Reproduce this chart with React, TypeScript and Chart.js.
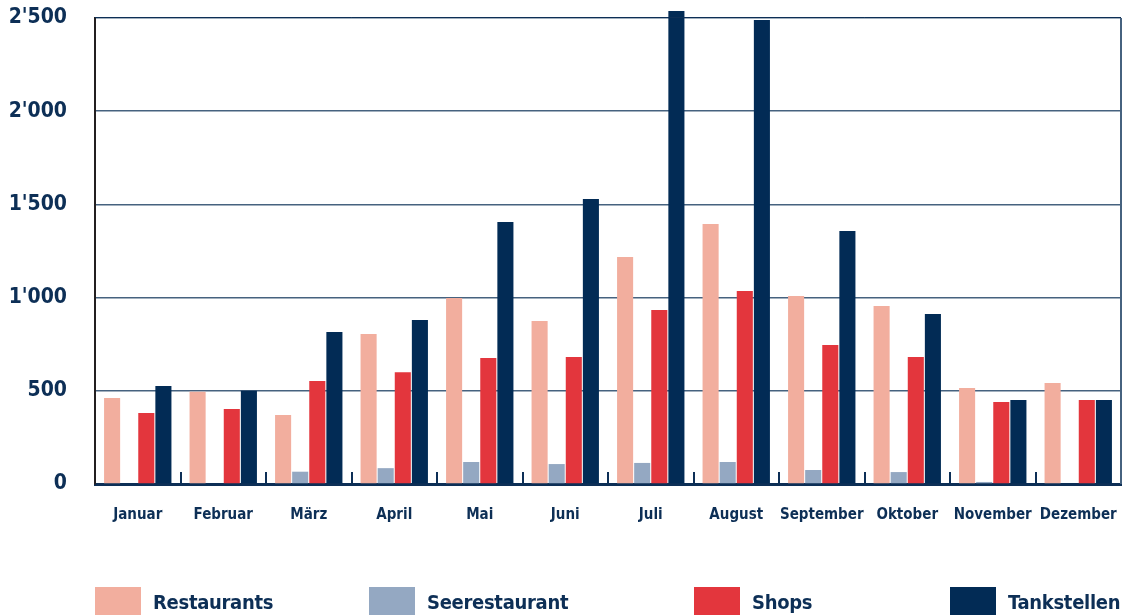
import React, { useEffect, useRef } from "react";
import { Chart, registerables } from "chart.js";

Chart.register(...registerables);

const months = ["Januar", "Februar", "März", "April", "Mai", "Juni", "Juli", "August", "September", "Oktober", "November", "Dezember"];
const restaurants = [461, 495, 370, 805, 998, 875, 1218, 1395, 1009, 955, 515, 542];
const seerestaurant = [0, 0, 66, 85, 118, 107, 113, 118, 75, 64, 11, 0];
const shops = [381, 402, 553, 600, 676, 681, 933, 1035, 746, 681, 440, 451];
const tankstellen = [526, 500, 815, 880, 1405, 1529, 2538, 2489, 1357, 912, 451, 451];
const seriesNames = ["Restaurants", "Seerestaurant", "Shops", "Tankstellen"];
const seriesColors = ["#F2AE9E", "#94A8C2", "#E3363D", "#022B55"];

const FONT = "'DejaVu Sans Condensed', 'DejaVu Sans', sans-serif";
const NAVY = "#0D2F56";

const legendLeft = [95, 369, 694, 950];

const extrasPlugin = {
  id: "extras",
  afterDraw(chart: any) {
    const { ctx, chartArea, scales } = chart;
    const x = scales.x;
    ctx.save();
    // right border
    ctx.strokeStyle = "#46627F";
    ctx.lineWidth = 2;
    ctx.beginPath();
    ctx.moveTo(chartArea.right, chartArea.top);
    ctx.lineTo(chartArea.right, chartArea.bottom);
    ctx.stroke();
    // top double line
    ctx.strokeStyle = NAVY;
    ctx.lineWidth = 1;
    ctx.beginPath();
    ctx.moveTo(chartArea.left, chartArea.top - 0.5);
    ctx.lineTo(chartArea.right, chartArea.top - 0.5);
    ctx.stroke();
    // category boundary ticks
    ctx.strokeStyle = NAVY;
    ctx.lineWidth = 2;
    const n = months.length;
    for (let i = 1; i < n; i++) {
      const px = (x.getPixelForValue(i - 1) + x.getPixelForValue(i)) / 2;
      ctx.beginPath();
      ctx.moveTo(Math.round(px), chartArea.bottom);
      ctx.lineTo(Math.round(px), chartArea.bottom - 12);
      ctx.stroke();
    }
    ctx.restore();
  },
};

export default function App() {
  const ref = useRef<HTMLCanvasElement>(null);
  useEffect(() => {
    document.body.style.margin = "0";
    const data = [restaurants, seerestaurant, shops, tankstellen];
    const chart = new Chart(ref.current!, {
      type: "bar",
      data: {
        labels: months,
        datasets: seriesNames.map((name, i) => ({
          label: name,
          data: data[i],
          backgroundColor: seriesColors[i],
          borderWidth: 0,
          categoryPercentage: 0.8,
          barPercentage: 0.94,
          clip: false as any,
        })),
      },
      options: {
        animation: false,
        responsive: false,
        maintainAspectRatio: false,
        layout: { padding: { left: 0, right: 9, top: 18, bottom: 0 } },
        plugins: { legend: { display: false }, tooltip: { enabled: false } },
        scales: {
          x: {
            grid: { display: false, drawTicks: false },
            border: { display: true, color: NAVY, width: 3 },
            ticks: {
              color: NAVY,
              padding: 22,
              font: { family: FONT, size: 15, weight: "bold" },
              maxRotation: 0,
              autoSkip: false,
            },
            afterFit(scale: any) {
              scale.height = 615 - 484;
              scale.paddingLeft = 0;
              scale.paddingRight = 0;
            },
          },
          y: {
            min: 0,
            max: 2500,
            grid: { color: "#46627F", lineWidth: 1.5, drawTicks: false },
            border: { display: true, color: "#231F20", width: 2 },
            ticks: {
              stepSize: 500,
              color: NAVY,
              padding: 28,
              font: { family: FONT, size: 21, weight: "bold" },
              callback: (v: any) => String(v).replace(/\B(?=(\d{3})+(?!\d))/g, "'"),
            },
            afterFit(scale: any) {
              scale.width = 95;
              scale.paddingTop = 0;
              scale.paddingBottom = 0;
            },
          },
        },
      },
      plugins: [extrasPlugin],
    });
    return () => chart.destroy();
  }, []);

  return (
    <div style={{ position: "relative", width: 1130, height: 615, overflow: "hidden", fontFamily: FONT }}>
      <canvas ref={ref} width={1130} height={615} style={{ display: "block" }} />
      {seriesNames.map((name, i) => (
        <div key={name} style={{ position: "absolute", left: legendLeft[i], top: 587, display: "flex", alignItems: "center" }}>
          <div style={{ width: 46, height: 30, background: seriesColors[i] }} />
          <span style={{ marginLeft: 12, color: NAVY, fontWeight: "bold", fontSize: 20, letterSpacing: "-0.3px", lineHeight: "30px", whiteSpace: "nowrap" }}>{name}</span>
        </div>
      ))}
    </div>
  );
}
